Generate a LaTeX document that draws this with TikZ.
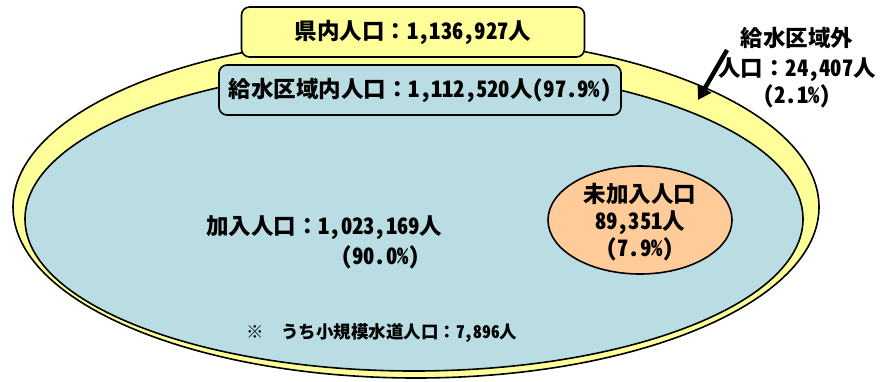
\documentclass[tikz,border=0pt]{standalone}
\usepackage{fontspec}
\newfontfamily\jp{Noto Sans CJK JP}[RawFeature=+hwid]
\newfontfamily\jpf{Noto Sans CJK JP}
\newcommand{\fcolon}{{\jpf ：}}
\usetikzlibrary{shapes.geometric,arrows.meta}
\definecolor{lyel}{HTML}{FFFF99}
\definecolor{lblue}{HTML}{B9DDE3}
\definecolor{peach}{HTML}{FFCC99}
\begin{document}
\begin{tikzpicture}[x=1pt,y=-1pt,
  txt/.style={font=\jp\bfseries\fontsize{22.5}{27}\selectfont, inner sep=0pt},
  small/.style={font=\jp\bfseries\fontsize{17.5}{20}\selectfont, inner sep=0pt},
  ell/.style={ellipse, draw=black, line width=1.6pt, inner sep=0pt},
  lbox/.style={draw=black, line width=1.6pt, rounded corners=8pt, inner sep=0pt}]
\useasboundingbox (0,0) rectangle (882,381);
\node[ell, fill=lyel, minimum width=806pt, minimum height=342pt] (outer) at (416,207) {};
\node[ell, fill=lblue, minimum width=778pt, minimum height=304pt] (inner) at (414,219) {};
\node[ell, fill=peach, minimum width=184pt, minimum height=108pt] (unj) at (640,220) {};
\node[txt, align=center] (unjtxt) at (640,222) {未加入人口\\89,351人\\(7.9\%)};
\node[lbox, txt, fill=lyel, minimum width=343pt, minimum height=50pt] (pref) at (413,32) {県内人口\fcolon 1,136,927人};
\node[lbox, txt, fill=lblue, minimum width=402pt, minimum height=50pt] (supply) at (420,90) {給水区域内人口\fcolon 1,112,520人(97.9\%)};
\node[txt, align=center] (outlbl) at (797,68) {給水区域外\\[3pt]人口\fcolon 24,407人\\(2.1\%)};
\coordinate (atail) at (727,50);
\coordinate (ahead) at (698,100);
\draw[line width=4.5pt, -{Triangle[length=13pt,width=15pt]}] (atail) -- (ahead);
\node[txt, align=left, anchor=west, font=\jp\bfseries\fontsize{22.5}{30}\selectfont] (join) at (206,242) {加入人口\fcolon 1,023,169人\\\hspace*{135pt}(90.0\%)};
\node[small, anchor=west] (small) at (246,333) {{\jpf ※　}うち小規模水道人口\fcolon 7,896人};
\end{tikzpicture}
\end{document}
